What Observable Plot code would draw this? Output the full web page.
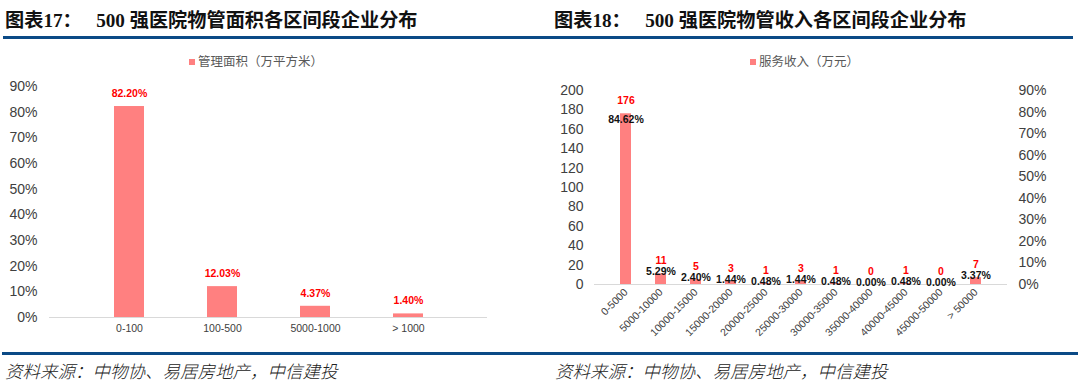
<!DOCTYPE html>
<html>
<head>
<meta charset="utf-8">
<script src="https://cdn.jsdelivr.net/npm/d3@7"></script>
<script src="https://cdn.jsdelivr.net/npm/@observablehq/plot@0.6"></script>
<style>
  html, body { margin: 0; padding: 0; background: #fff; }
  #root { position: relative; width: 1080px; height: 392px; overflow: hidden; font-family: "Liberation Sans", Arial, sans-serif; }
  .title { position: absolute; top: 5px; font-family: "Liberation Serif", "Noto Sans CJK SC", serif; font-weight: bold; font-size: 19.2px; color: #111; white-space: pre; }
  .title .cjk { font-family: "Noto Sans CJK SC", sans-serif; }
  .rule { position: absolute; left: 3px; width: 1070px; height: 3px; background: #0b4a86; }
  .legend { position: absolute; top: 51px; font-family: "Noto Sans CJK SC", sans-serif; font-size: 12.5px; color: #595959; white-space: nowrap; }
  .legend .sw { display: inline-block; width: 6px; height: 6px; background: #ff8080; margin-right: 3px; vertical-align: 1px; }
  .caption { position: absolute; top: 358px; font-family: "Noto Sans CJK SC", sans-serif; font-style: italic; font-size: 17.5px; font-weight: 300; color: #222; white-space: nowrap; }
  .plot { position: absolute; }
</style>
</head>
<body>
<div id="root">
  <div class="title" style="left:5px"><span class="cjk">图表</span>17<span class="cjk">：</span>   500 <span class="cjk">强医院物管面积各区间段企业分布</span></div>
  <div class="title" style="left:554px"><span class="cjk">图表</span>18<span class="cjk">：</span>   500 <span class="cjk">强医院物管收入各区间段企业分布</span></div>
  <div class="rule" style="top:36px"></div>
  <div class="legend" style="left:189px"><span class="sw"></span>管理面积（万平方米）</div>
  <div class="legend" style="left:750px"><span class="sw"></span>服务收入（万元）</div>
  <div class="rule" style="top:352px; left:2px; width:1076px"></div>
  <div class="caption" style="left:5px">资料来源：中物协、易居房地产，中信建投</div>
  <div class="caption" style="left:555px">资料来源：中物协、易居房地产，中信建投</div>
</div>
<script>
// ---- Data: chart 17 ----
const areaCategories = ["0-100", "100-500", "5000-1000", "> 1000"];
const areaShares = [0.8220, 0.1203, 0.0437, 0.0140];
const areaShareLabels = ["82.20%", "12.03%", "4.37%", "1.40%"];
const areaTicks = [0, 0.1, 0.2, 0.3, 0.4, 0.5, 0.6, 0.7, 0.8, 0.9];

// ---- Data: chart 18 ----
const revenueCategories = ["0-5000", "5000-10000", "10000-15000", "15000-20000", "20000-25000", "25000-30000", "30000-35000", "35000-40000", "40000-45000", "45000-50000", "> 50000"];
const revenueCounts = [176, 11, 5, 3, 1, 3, 1, 0, 1, 0, 7];
const revenueShareLabels = ["84.62%", "5.29%", "2.40%", "1.44%", "0.48%", "1.44%", "0.48%", "0.00%", "0.48%", "0.00%", "3.37%"];
const countTicks = [0, 20, 40, 60, 80, 100, 120, 140, 160, 180, 200];
const pctTicks = [0, 0.1, 0.2, 0.3, 0.4, 0.5, 0.6, 0.7, 0.8, 0.9];

const BAR = "#ff8080";
const root = document.getElementById("root");

// ---- Chart 17 ----
const areaData = areaCategories.map((c, i) => ({cat: c, v: areaShares[i], label: areaShareLabels[i]}));
const p1 = Plot.plot({
  width: 530, height: 280,
  marginLeft: 49, marginRight: 43, marginTop: 16, marginBottom: 33,
  style: {fontFamily: "Liberation Sans, Arial, sans-serif", color: "#404040", background: "transparent", overflow: "visible"},
  x: {domain: areaCategories, padding: 0.68, label: null},
  y: {domain: [0, 0.9], label: null},
  marks: [
    Plot.barY(areaData, {x: "cat", y: "v", fill: BAR}),
    Plot.ruleY([0], {stroke: "#d9d9d9", strokeWidth: 1.2}),
    Plot.text(areaData, {x: "cat", y: "v", text: "label", dy: -13, fill: "#ff0000", fontWeight: "bold", fontSize: 10.5}),
    Plot.axisY({ticks: areaTicks, tickFormat: d => Math.round(d * 100) + "%", tickSize: 0, tickPadding: 12, fontSize: 14, label: null}),
    Plot.axisX({tickSize: 0, tickPadding: 7, fontSize: 10.5, label: null})
  ]
});
p1.classList.add("plot");
p1.style.left = "0px"; p1.style.top = "70px";
root.appendChild(p1);

// ---- Chart 18 ----
const revData = revenueCategories.map((c, i) => ({cat: c, v: revenueCounts[i], pct: revenueShareLabels[i], first: i === 0}));
const common = {
  width: 535, height: 280,
  marginLeft: 49, marginRight: 73, marginTop: 20, marginBottom: 66,
  style: {fontFamily: "Liberation Sans, Arial, sans-serif", color: "#404040", background: "transparent", overflow: "visible"}
};
const p2 = Plot.plot({
  ...common,
  x: {domain: revenueCategories, padding: 0.68, label: null},
  y: {domain: [0, 200], label: null},
  marks: [
    Plot.barY(revData, {x: "cat", y: "v", fill: BAR}),
    Plot.ruleY([0], {stroke: "#d9d9d9", strokeWidth: 1.2}),
    Plot.text(revData, {x: "cat", y: "v", text: d => String(d.v), dy: -13, fill: "#ff0000", fontWeight: "bold", fontSize: 10.5}),
    Plot.text(revData.filter(d => d.first), {x: "cat", y: "v", text: "pct", dy: 6, fill: "#111", fontWeight: "bold", fontSize: 10.5}),
    Plot.text(revData.filter(d => !d.first), {x: "cat", y: "v", text: "pct", dy: -2, fill: "#111", fontWeight: "bold", fontSize: 10.5}),
    Plot.axisY({ticks: countTicks, tickSize: 0, tickPadding: 11, fontSize: 14, label: null}),
    Plot.axisX({tickSize: 0, tickPadding: 6, tickRotate: -45, fontSize: 10.5, label: null})
  ]
});
p2.classList.add("plot");
p2.style.left = "545px"; p2.style.top = "70px";
root.appendChild(p2);

// secondary (right) percentage axis overlay
const p3 = Plot.plot({
  ...common,
  x: {domain: revenueCategories, label: null, axis: null},
  y: {domain: [0, 0.9], label: null},
  marks: [
    Plot.axisY({anchor: "right", ticks: pctTicks, tickFormat: d => Math.round(d * 100) + "%", tickSize: 0, tickPadding: 11, fontSize: 14, label: null})
  ]
});
p3.classList.add("plot");
p3.style.left = "545px"; p3.style.top = "70px"; p3.style.pointerEvents = "none";
root.appendChild(p3);
</script>
</body>
</html>
